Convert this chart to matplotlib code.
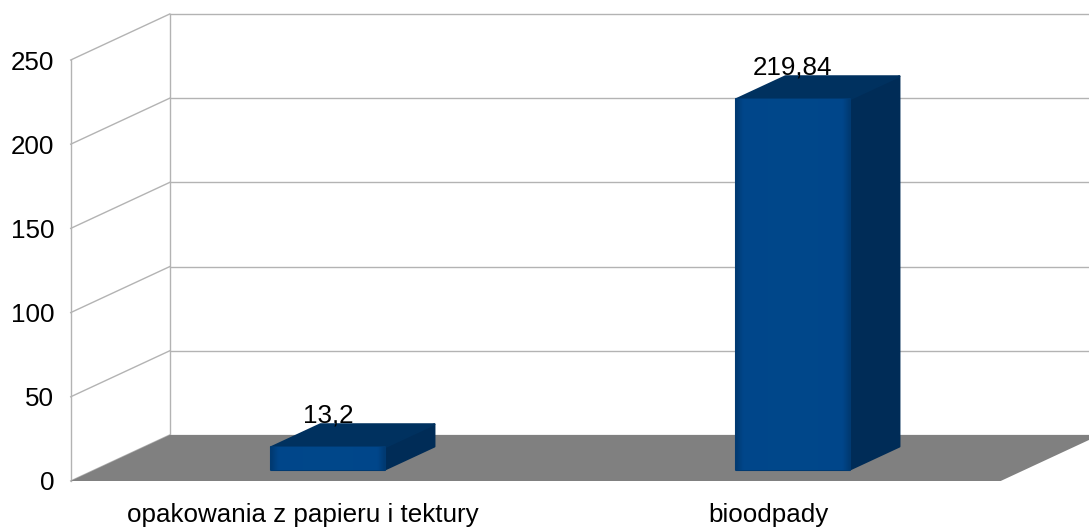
import numpy as np
import matplotlib.pyplot as plt
from matplotlib.patches import Polygon
from matplotlib.colors import LinearSegmentedColormap

plt.rcParams['font.family'] = ['Liberation Sans', 'DejaVu Sans']

# Data
categories = ['opakowania z papieru i tektury', 'bioodpady']
values = [13.2, 219.84]
value_labels = ['13,2', '219,84']
yticks = [0, 50, 100, 150, 200, 250]

# Colours
grid_col = '#b3b3b3'
floor_col = '#808080'
front_col = '#004586'
side_col = '#002c57'
top_col = '#00315f'
front_cmap = LinearSegmentedColormap.from_list(
    'front', [(0, '#003a72'), (0.06, '#00468a'), (0.5, '#00488b'),
              (0.94, '#00468a'), (1, '#003a72')])

W, H = 1089, 529
fig = plt.figure(figsize=(W / 100, H / 100), dpi=100)
# front plane of the 3D box
x0, x1 = 70.7, 1000.7
y0, y1 = 481.0, 60.0
ax = fig.add_axes([x0 / W, 1 - y0 / H, (x1 - x0) / W, (y0 - y1) / H])
ax.set_xlim(0, len(categories))
ax.set_ylim(0, 250)
for s in ax.spines.values():
    s.set_visible(False)
ax.set_facecolor('none')

# depth offset of the back wall in pixels, turned into data units
depth_px = (99.0, 46.0)
kx = depth_px[0] / ((x1 - x0) / len(categories))
ky = depth_px[1] / ((y0 - y1) / 250)


def p(x, y, d):
    return (x + d * kx, y + d * ky)


def poly(pts, **kw):
    patch = Polygon(pts, closed=True, clip_on=False, **kw)
    ax.add_patch(patch)
    return patch


n = len(categories)
# back wall and left wall grid
for v in yticks:
    ax.plot(*zip(p(0, v, 1), p(n, v, 1)), color=grid_col, lw=1, clip_on=False, zorder=1)
    ax.plot(*zip(p(0, v, 0), p(0, v, 1)), color=grid_col, lw=1, clip_on=False, zorder=1)
ax.plot(*zip(p(0, 0, 1), p(0, 250, 1)), color=grid_col, lw=1, clip_on=False, zorder=1)
ax.plot(*zip(p(0, 0, 0), p(0, 250, 0)), color=grid_col, lw=1, clip_on=False, zorder=1)

# floor
poly([p(0, 0, 0), p(n, 0, 0), p(n, 0, 1), p(0, 0, 1)], facecolor=floor_col,
     edgecolor='none', zorder=2)

# bars
bw = 0.245
d0, d1 = 0.25, 0.75
grad = np.linspace(0, 1, 128).reshape(1, -1)
for i, v in enumerate(values):
    xc = i + 0.5
    xl, xr = xc - bw / 2, xc + bw / 2
    poly([p(xr, 0, d0), p(xr, 0, d1), p(xr, v, d1), p(xr, v, d0)],
         facecolor=side_col, edgecolor=side_col, lw=1.5, joinstyle='round', zorder=3)
    poly([p(xl, v, d0), p(xr, v, d0), p(xr, v, d1), p(xl, v, d1)],
         facecolor=top_col, edgecolor=top_col, lw=1.5, joinstyle='round', zorder=3)
    face = poly([p(xl, 0, d0), p(xr, 0, d0), p(xr, v, d0), p(xl, v, d0)],
                facecolor=front_col, edgecolor='#003a72', lw=1.5, joinstyle='round',
                zorder=4)
    (ex0, ey0), (ex1, ey1) = p(xl, 0, d0), p(xr, v, d0)
    im = ax.imshow(grad, cmap=front_cmap, extent=(ex0, ex1, ey0, ey1), aspect='auto',
                   zorder=4.1, interpolation='bilinear')
    im.set_clip_path(face)
    tx, _ = p(xc, v, d0)
    _, ty = p(xc, v, d1)
    ax.annotate(value_labels[i], (tx, ty), xytext=(0, 1.5), textcoords='offset points',
                ha='center', va='baseline', fontsize=18.7, color='black', zorder=5,
                annotation_clip=False)

ax.set_xlim(0, len(categories))
ax.set_ylim(0, 250)
ax.set_yticks(yticks)
ax.set_yticklabels([str(t) for t in yticks], fontsize=18.7)
ax.set_xticks([i + 0.5 for i in range(n)])
ax.set_xticklabels(categories, fontsize=18.7)
ax.tick_params(axis='y', length=0, pad=12)
ax.tick_params(axis='x', length=0, pad=16)

fig.savefig('out.png', dpi=100)
